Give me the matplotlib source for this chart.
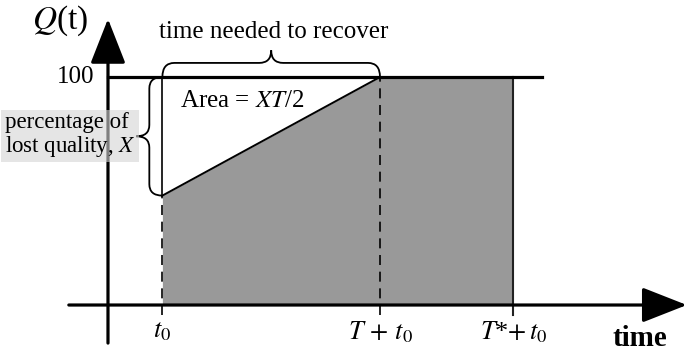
import matplotlib.pyplot as plt
from matplotlib.path import Path
from matplotlib.patches import PathPatch

plt.rcParams['font.family'] = ['Liberation Serif', 'DejaVu Serif']
plt.rcParams['mathtext.fontset'] = 'stix'

# schematic values (time units, quality in percent)
t0 = 1.0
T = 4.0
T_star = 6.45
q_full = 100
loss_X = 52

times = [t0, t0 + T, t0 + T_star]
quality = [q_full - loss_X, q_full, q_full]
tick_pos = [t0, t0 + T, t0 + T_star]
tick_labels = ['$t_0$', '$T\\,+\\,t_0$', '$T$*$+\\,t_0$']


def brace(ax, p0, p1, depth, tip, r, vertical=False):
    # curly brace from p0 to p1, bulging by depth, tip extends by tip
    if not vertical:
        (x0, y0), (x1, _) = p0, p1
        xm = (x0 + x1) / 2
        yb, yt = y0 + depth, y0 + depth + tip
        verts = [(x0, y0), (x0, yb), (x0 + r, yb), (xm - r, yb), (xm, yb), (xm, yt),
                 (xm, yb), (xm + r, yb), (x1 - r, yb), (x1, yb), (x1, y0)]
    else:
        (x0, y0), (_, y1) = p0, p1
        ym = (y0 + y1) / 2
        xb, xt = x0 - depth, x0 - depth - tip
        verts = [(x0, y0), (xb, y0), (xb, y0 - r), (xb, ym + r), (xb, ym), (xt, ym),
                 (xb, ym), (xb, ym - r), (xb, y1 + r), (xb, y1), (x0, y1)]
    codes = [Path.MOVETO, Path.CURVE3, Path.CURVE3, Path.LINETO, Path.CURVE3, Path.CURVE3,
             Path.CURVE3, Path.CURVE3, Path.LINETO, Path.CURVE3, Path.CURVE3]
    ax.add_patch(PathPatch(Path(verts, codes), fill=False, lw=1.3, color='black'))


fig = plt.figure(figsize=(6.89, 3.53), dpi=100)
ax = fig.add_axes([0, 0, 1, 1])
ax.set_xlim(-1.985, 10.68)
ax.set_ylim(-21.05, 133.8)
ax.axis('off')

# recovered area
ax.fill_between(times, quality, 0, color='#999999', lw=0, zorder=1)
ax.plot(times[:2], quality[:2], color='black', lw=1.4, zorder=3)

# full-quality line
ax.plot([0, 7.98], [q_full, q_full], color='black', lw=2.3, zorder=4)

# vertical markers
dash = (0, (6, 4))
ax.plot([t0, t0], [quality[0], q_full], color='black', lw=1.2, zorder=3)
ax.plot([t0, t0], [-4.4, quality[0]], color='black', lw=1.2, ls=dash, zorder=3)
ax.plot([t0 + T, t0 + T], [-4.4, q_full], color='black', lw=1.2, ls=dash, zorder=3)
ax.plot([t0 + T_star, t0 + T_star], [-4.4, q_full], color='#222222', lw=1.5, zorder=3)

# axes with arrows
arrow = dict(arrowstyle='-|>,head_length=1.4,head_width=0.55', mutation_scale=20,
             lw=2.3, color='black', shrinkA=0, shrinkB=0)
ax.annotate('', xy=(0, 125.5), xytext=(0, -16.7), arrowprops=arrow, zorder=5)
ax.annotate('', xy=(10.64, 0), xytext=(-0.72, 0), arrowprops=arrow, zorder=5)

# braces
brace(ax, (t0, q_full), (t0 + T, q_full), 6.2, 5.5, 0.22)
brace(ax, (t0, q_full), (t0, quality[0]), 0.24, 0.24, 5.0, vertical=True)

# text
ax.text(-0.88, 124.5, '$Q$(t)', fontsize=24, ha='center', va='center')
ax.text(-0.25, q_full, '100', fontsize=18, ha='right', va='center')
ax.text(3.05, 119.8, 'time needed to recover', fontsize=18, ha='center', va='center')
ax.text(1.33, 89.5, 'Area = $XT$/2', fontsize=18, ha='left', va='center')
ax.text(-1.90, 74.5, 'percentage of\nlost quality, $X$', fontsize=16.5, ha='left',
        va='center', linespacing=1.05, zorder=6,
        bbox=dict(boxstyle='square,pad=0.15', fc='#d5d5d5', ec='none', alpha=0.6))

for pos, lab in zip(tick_pos, tick_labels):
    ax.text(pos, -11.8, lab, fontsize=19, ha='center', va='center')
ax.text(9.78, -14.6, 'time', fontsize=21, fontweight='bold', ha='center', va='center')

fig.savefig('out.png', dpi=100)
